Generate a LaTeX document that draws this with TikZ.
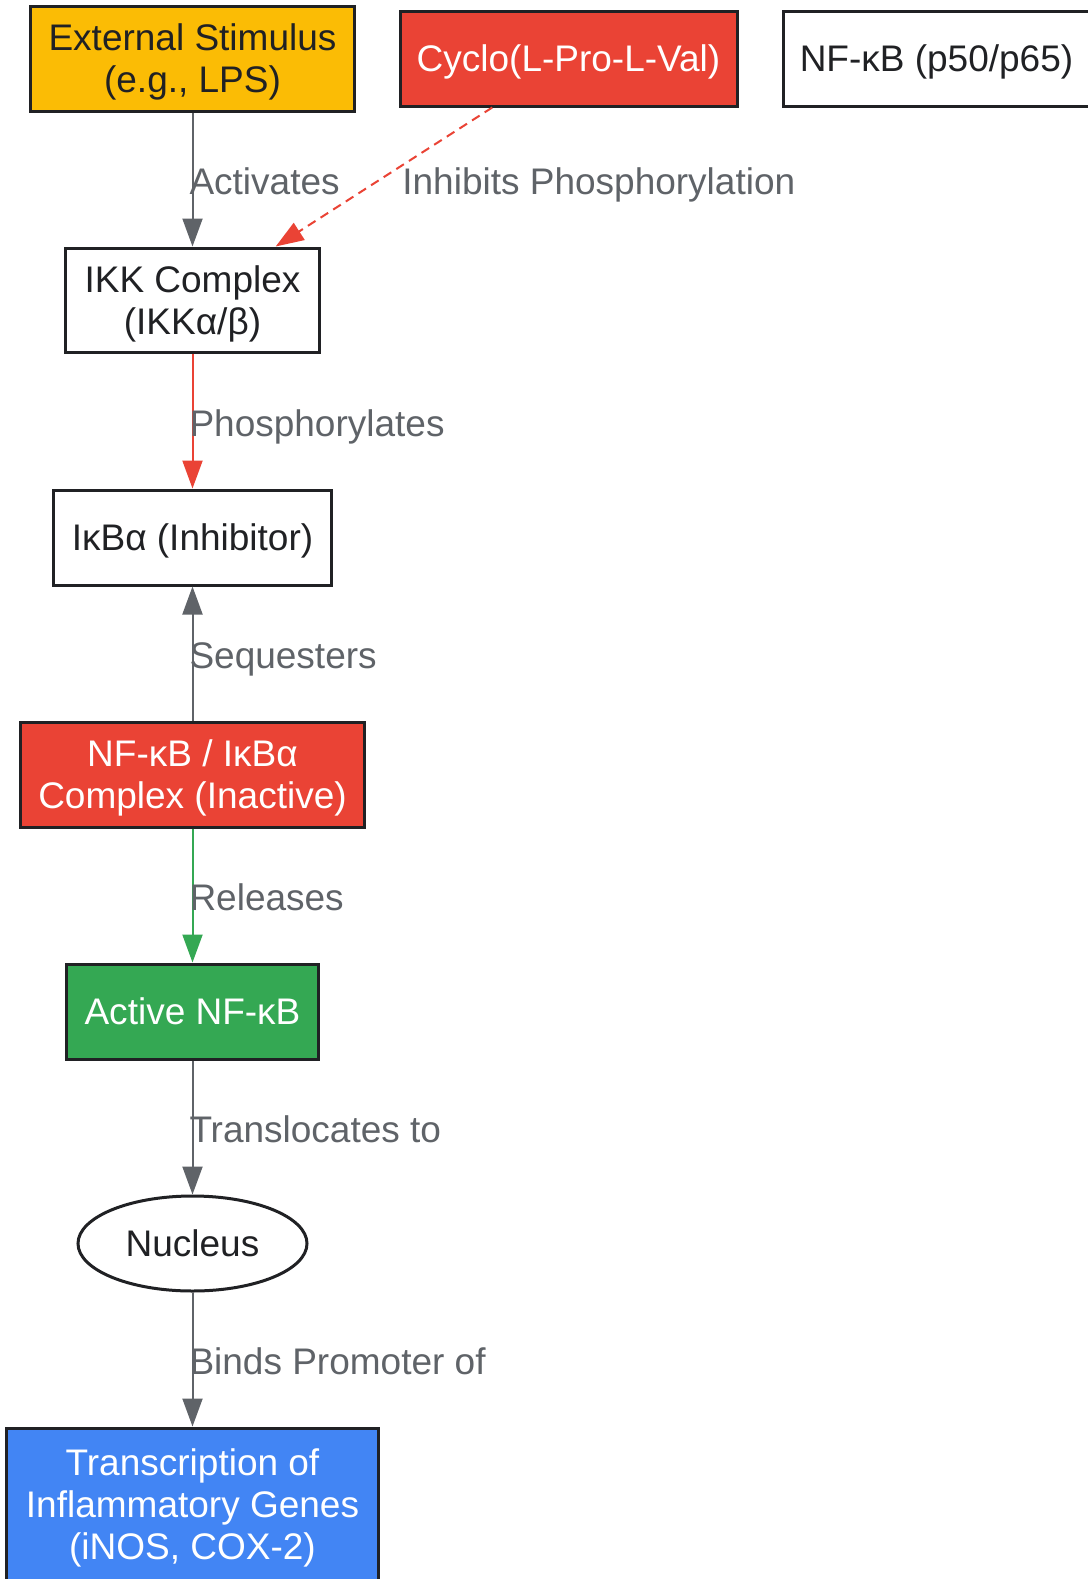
\documentclass[tikz,border=0pt]{standalone}
\usepackage{fontspec}
\setmainfont{Liberation Sans}
\usetikzlibrary{arrows.meta,shapes.geometric}
\definecolor{gDark}{HTML}{202124}
\definecolor{gGray}{HTML}{5F6368}
\definecolor{gRed}{HTML}{EA4335}
\definecolor{gYellow}{HTML}{FBBC05}
\definecolor{gGreen}{HTML}{34A853}
\definecolor{gBlue}{HTML}{4285F4}

\begin{document}
\begin{tikzpicture}[x=0.5bp, y=-0.5bp,
		box/.style={draw=gDark, line width=1.5bp, text=gDark, align=center, inner xsep=8bp, inner ysep=4bp, text depth=-3.2bp, font=\fontsize{18.5bp}{21bp}\selectfont},
		flow/.style={draw=gGray, line width=1bp, -{Triangle[length=14bp, width=10bp]}},
		lbl/.style={anchor=base west, inner sep=0pt, xshift=-2bp, yshift=-7.5bp, text=gGray, font=\fontsize{18.5bp}{21bp}\selectfont}]
		%%%%% START %%%%%
		
		\useasboundingbox[fill=white] (0, 0) rectangle (1087, 1579);
		
		% top row
		\node[box, fill=gYellow, minimum width=161.5bp, minimum height=52.5bp] (stim) at (192.5, 58.5) {External Stimulus\\(e.g., LPS)};
		\node[box, fill=gRed, text=white, minimum width=168.5bp, minimum height=47.5bp] (cyclo) at (568.5, 58.5) {Cyclo(L-Pro-L-Val)};
		\node[box, fill=white, minimum width=153.5bp, minimum height=47.5bp] (nfkb) at (936.5, 58.5) {NF-κB (p50/p65)};
		
		% pathway
		\node[box, fill=white, minimum width=126.5bp, minimum height=52bp] (ikk) at (192.5, 300) {IKK Complex\\(IKKα/β)};
		\node[box, fill=white, minimum width=138.5bp, minimum height=47.5bp] (ikba) at (192.5, 537.5) {IκBα (Inhibitor)};
		\node[box, fill=gRed, text=white, minimum width=171.5bp, minimum height=52.5bp] (cmplx) at (192.5, 774.5) {NF-κB / IκBα\\Complex (Inactive)};
		\node[box, fill=gGreen, text=white, minimum width=125.5bp, minimum height=47.5bp] (active) at (192.5, 1011.5) {Active NF-κB};
		\node[box, ellipse, fill=white, inner sep=0pt, minimum width=114.5bp, minimum height=47.5bp] (nucleus) at (192.5, 1243.5) {Nucleus};
		\node[box, fill=gBlue, text=white, minimum width=185.5bp, minimum height=76bp] (genes) at (192.5, 1504) {Transcription of\\Inflammatory Genes\\(iNOS, COX-2)};
		
		% arrows
		\draw[flow] (stim) -- (ikk) node[lbl, midway] {Activates};
		\draw[flow, draw=gRed, dash pattern=on 4.5bp off 3bp] (cyclo) -- (ikk) node[lbl, pos=0.535, xshift=14.5bp, yshift=1.25bp] {Inhibits Phosphorylation};
		\draw[flow, draw=gRed] (ikk) -- (ikba) node[lbl, midway] {Phosphorylates};
		\draw[flow] (cmplx) -- (ikba) node[lbl, midway] {Sequesters};
		\draw[flow, draw=gGreen] (cmplx) -- (active) node[lbl, midway] {Releases};
		\draw[flow] (active) -- (nucleus) node[lbl, midway] {Translocates to};
		\draw[flow] (nucleus) -- (genes) node[lbl, midway] {Binds Promoter of};
		
		%%%%% END %%%%%
	\end{tikzpicture}
\end{document}
